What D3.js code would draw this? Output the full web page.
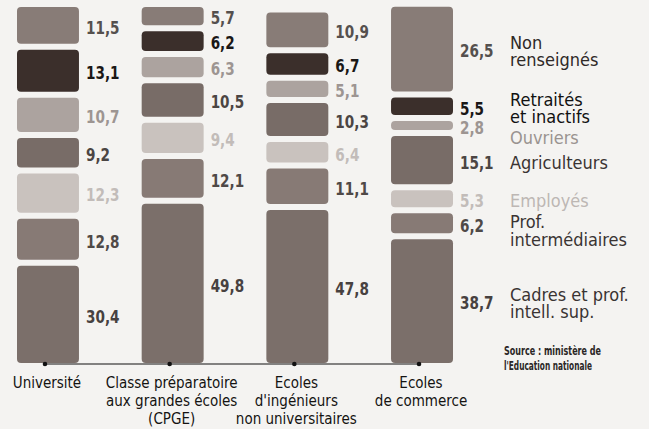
<!DOCTYPE html>
<html><head><meta charset="utf-8">
<script src="https://cdn.jsdelivr.net/npm/d3@7"></script>
<style>
html,body{margin:0;padding:0;background:#f4f3f1;}
svg{display:block;}
text{font-family:"DejaVu Sans Condensed","DejaVu Sans",sans-serif;}
</style></head>
<body>
<svg id="chart" width="649" height="429"></svg>
<script>
// Data (% by social origin), stack order bottom -> top
const institutions = [
  ["Université"],
  ["Classe préparatoire","aux grandes écoles","(CPGE)"],
  ["Ecoles","d'ingénieurs","non universitaires"],
  ["Ecoles","de commerce"]
];
const groups = ["Cadres et prof. intell. sup.","Prof. intermédiaires","Employés","Agriculteurs","Ouvriers","Retraités et inactifs","Non renseignés"];
const groupLabels = [["Cadres et prof.","intell. sup."],["Prof.","intermédiaires"],["Employés"],["Agriculteurs"],["Ouvriers"],["Retraités","et inactifs"],["Non","renseignés"]];
const universite = [30.4, 12.8, 12.3, 9.2, 10.7, 13.1, 11.5];
const cpge       = [49.8, 12.1, 9.4, 10.5, 6.3, 6.2, 5.7];
const ingenieurs = [47.8, 11.1, 6.4, 10.3, 5.1, 6.7, 10.9];
const commerce   = [38.7, 6.2, 5.3, 15.1, 2.8, 5.5, 26.5];
const seriesByInstitution = [universite, cpge, ingenieurs, commerce];
const sourceLines = ["Source : ministère de","l'Education nationale"];

// Styles
const fills  = ["#7b6f6a","#877a75","#c9c2be","#786c67","#aca39f","#3b2f2b","#887c77"];
const valueColors = ["#474140","#4f4947","#c2bcb9","#4b4543","#9d9592","#1a1716","#55504e"];
const legendColors = ["#3a3433","#3a3433","#bdb7b4","#3a3433","#9a9390","#111","#2e2927"];

const svg = d3.select("#chart");
const baseY = 363, gap = 6;
const x = d3.scaleBand().domain(d3.range(institutions.length)).range([17, 453]).paddingInner(0.503).paddingOuter(0);
const h = d3.scaleLinear().domain([0, 100]).range([0, 320]);
const segBottom = (c, k) => baseY - h(c) - k * gap;

const legendX = x(3) + x.bandwidth() + 57;
seriesByInstitution.forEach((vals, i) => {
  let cum = 0;
  const segs = vals.map((v, k) => {
    const b = segBottom(cum, k), t = b - h(v);
    cum += v;
    return {v, k, top: t, bottom: b, mid: (t + b) / 2};
  });
  const g = svg.append("g");
  g.selectAll("rect").data(segs).join("rect")
    .attr("x", x(i)).attr("width", x.bandwidth())
    .attr("y", d => d.top).attr("height", d => d.bottom - d.top)
    .attr("rx", 4).attr("fill", d => fills[d.k]);
  g.selectAll("text.val").data(segs).join("text").attr("class","val")
    .attr("transform", d => `translate(${x(i) + x.bandwidth() + 7},${d.mid + 2}) scale(0.84,1)`)
    .attr("dy", "0.35em")
    .attr("font-size", 18).attr("font-weight", "bold")
    .attr("fill", d => valueColors[d.k])
    .text(d => d3.format(".1f")(d.v).replace(".", ","));
  if (i === seriesByInstitution.length - 1) {
    const lh = 17.5, minGap = 21;
    let prevLast = -Infinity;
    segs.slice().sort((a, b) => a.mid - b.mid).forEach(d => {
      const lines = groupLabels[d.k];
      const anchor = d.mid + 2 + 6.3;
      let first = anchor - (lines.length - 1) * lh / 2;
      if (first < prevLast + minGap) first = prevLast + minGap;
      const t = svg.append("text").attr("font-size", 18).attr("fill", legendColors[d.k]);
      lines.forEach((ln, j) => {
        t.append("tspan").attr("x", legendX).attr("y", first + j * lh).text(ln);
      });
      prevLast = first + (lines.length - 1) * lh;
    });
  }
});

// baseline with dots
const cx = i => x(i) + x.bandwidth() / 2 - 3;
svg.append("line").attr("x1", cx(0)).attr("x2", cx(3)).attr("y1", 364).attr("y2", 364)
  .attr("stroke", "#111").attr("stroke-width", 1.2);
svg.selectAll("circle.dot").data(d3.range(institutions.length)).join("circle")
  .attr("cx", cx).attr("cy", 364).attr("r", 2.3).attr("fill", "#111");

// category labels
institutions.forEach((lines, i) => {
  const t = svg.append("text").attr("text-anchor", "middle").attr("font-size", 15).attr("fill", "#151312");
  lines.forEach((ln, j) => {
    t.append("tspan").attr("x", cx(i) + 2).attr("y", 388 + j * 18).text(ln);
  });
});

// source
sourceLines.forEach((ln, j) => {
  svg.append("text").attr("x", 504).attr("y", 355 + j * 15).attr("font-size", 11.5)
    .attr("font-weight", "bold").attr("fill", "#2a2625")
    .attr("textLength", j === 0 ? 97 : 88).attr("lengthAdjust", "spacingAndGlyphs")
    .text(ln);
});
</script>
</body></html>
